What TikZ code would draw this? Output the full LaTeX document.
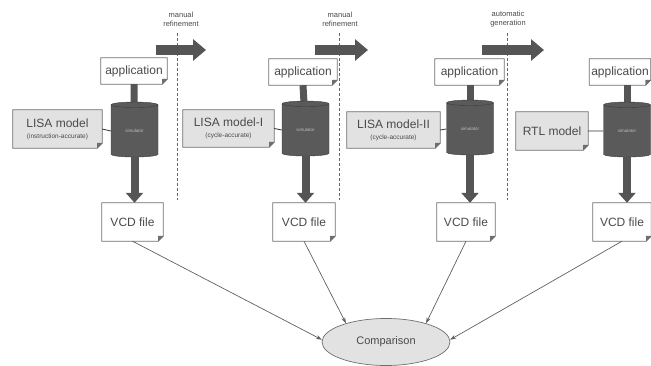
\documentclass[tikz,border=0pt]{standalone}
\usepackage{fontspec}
\setmainfont{Liberation Sans}
\usetikzlibrary{shapes.geometric,arrows.meta,backgrounds}
\definecolor{edge}{HTML}{6E6E6E}
\definecolor{txt}{HTML}{4A4A4A}
\definecolor{cylfill}{HTML}{5A5A5A}
\definecolor{cylline}{HTML}{3C3C3C}
\definecolor{lgray}{HTML}{E2E2E2}
\definecolor{darkarrow}{HTML}{555555}
\newcommand{\docframe}[2]{%
  \filldraw[fill=#2, draw=edge, line width=0.7pt]
    (#1.north west) -- (#1.north east) -- ([yshift=5pt]#1.south east)
    -- ([xshift=-5pt]#1.south east) -- (#1.south west) -- cycle;
  \filldraw[fill=edge, draw=edge, line width=0.4pt]
    ([yshift=5pt]#1.south east) -- ([xshift=-5pt]#1.south east)
    -- ([xshift=-5pt,yshift=5pt]#1.south east) -- cycle;}
\begin{document}
\begin{tikzpicture}[x=1pt,y=-1pt,
  docbox/.style={inner sep=0pt, text=txt, font=\fontsize{12}{14}\selectfont},
  modelbox/.style={docbox, align=center},
  cyl/.style={cylinder, shape border rotate=90, aspect=0.3, draw=cylline, fill=cylfill,
    minimum width=47, minimum height=55, inner sep=0pt, text=gray!50,
    font=\fontsize{4.5}{5}\selectfont},
  stub/.style={draw=darkarrow, line width=7pt},
  downarrow/.style={draw=darkarrow, line width=8pt, -{Triangle[width=17pt,length=10pt]}},
  bigarrow/.style={draw=darkarrow, line width=10pt, -{Triangle[width=21pt,length=13pt]}},
  link/.style={draw=black!80, line width=0.8pt},
  conn/.style={draw=gray!75!black, line width=0.7pt, -{Stealth[length=6pt,width=4pt]}},
  sep/.style={draw=gray!80!black, line width=0.8pt, dash pattern=on 3pt off 2pt},
  steplabel/.style={align=center, text=txt, font=\fontsize{7.5}{9}\selectfont, inner sep=0pt}
]
\useasboundingbox (0,0) rectangle (651,366);
\clip (0,0) rectangle (651,366);

% separators and step labels
\coordinate (s1t) at (177,33); \coordinate (s1b) at (177,200);
\coordinate (s2t) at (339,33); \coordinate (s2b) at (339,200);
\coordinate (s3t) at (507,33); \coordinate (s3b) at (507,200);
\draw[sep] (s1t) -- (s1b);
\draw[sep] (s2t) -- (s2b);
\draw[sep] (s3t) -- (s3b);
\node[steplabel] (l1) at (181,19) {manual\\refinement};
\node[steplabel] (l2) at (340,19) {manual\\refinement};
\node[steplabel] (l3) at (508,19) {automatic\\generation};
\coordinate (a1s) at (156,50); \coordinate (a1e) at (206,50);
\coordinate (a2s) at (315,50); \coordinate (a2e) at (368,50);
\coordinate (a3s) at (482,50); \coordinate (a3e) at (544,50);
\draw[bigarrow] (a1s) -- (a1e);
\draw[bigarrow] (a2s) -- (a2e);
\draw[bigarrow] (a3s) -- (a3e);

% column nodes
\node[docbox, minimum width=66, minimum height=26] (app1) at (134,71) {application};
\node[docbox, minimum width=68, minimum height=26] (app2) at (303,72) {application};
\node[docbox, minimum width=69, minimum height=26] (app3) at (469.5,72) {application};
\node[docbox, minimum width=61, minimum height=26] (app4) at (620,72) {application};

\node[cyl] (cyl1) at (134.5,131) {simulator};
\node[cyl] (cyl2) at (305.5,130) {simulator};
\node[cyl] (cyl3) at (470,129) {simulator};
\node[cyl] (cyl4) at (627,131) {simulator};

\node[modelbox, minimum width=89, minimum height=38] (m1) at (57.5,129)
  {LISA model\\[-3pt]{\fontsize{6.5}{7}\selectfont(instruction-accurate)}};
\node[modelbox, minimum width=91, minimum height=37] (m2) at (228.5,128.5)
  {LISA model-I\\[-3pt]{\fontsize{6.5}{7}\selectfont(cycle-accurate)}};
\node[modelbox, minimum width=93, minimum height=36] (m3) at (393.5,130)
  {LISA model-II\\[-3pt]{\fontsize{6.5}{7}\selectfont(cycle-accurate)}};
\node[modelbox, minimum width=72, minimum height=38] (m4) at (552,131) {RTL model};

\node[docbox, minimum width=61, minimum height=38] (v1) at (132.5,222) {VCD file};
\node[docbox, minimum width=62, minimum height=38] (v2) at (304,222) {VCD file};
\node[docbox, minimum width=58, minimum height=38] (v3) at (466,222) {VCD file};
\node[docbox, minimum width=58, minimum height=38] (v4) at (622,222) {VCD file};

\node[ellipse, draw=edge, line width=0.7pt, fill=lgray, minimum width=128, minimum height=47,
  text=txt, font=\fontsize{11}{13}\selectfont] (cmp) at (386,342) {Comparison};

\begin{scope}[on background layer]
  \docframe{app1}{white} \docframe{app2}{white} \docframe{app3}{white} \docframe{app4}{white}
  \docframe{m1}{lgray} \docframe{m2}{lgray} \docframe{m3}{lgray} \docframe{m4}{lgray}
  \docframe{v1}{white} \docframe{v2}{white} \docframe{v3}{white} \docframe{v4}{white}
  \draw[stub] (app1.south) -- (cyl1.center);
  \draw[stub] (app2.south) -- (cyl2.center);
  \draw[stub] (app3.south -| cyl3.center) -- (cyl3.center);
  \draw[stub] (app4.south -| cyl4.center) -- (cyl4.center);
\end{scope}

\draw[link] (m1.east) -- (cyl1.west);
\draw[link] (m2.east) -- (cyl2.west);
\draw[link] (m3.east) -- (cyl3.west);
\draw[link] (m4.east) -- (cyl4.west);

\draw[downarrow] (cyl1.bottom) -- (cyl1.bottom |- v1.north);
\draw[downarrow] (cyl2.bottom) -- (cyl2.bottom |- v2.north);
\draw[downarrow] (cyl3.bottom) -- (cyl3.bottom |- v3.north);
\draw[downarrow] (cyl4.bottom) -- (cyl4.bottom |- v4.north);

\draw[conn] (v1.south) -- (cmp.178);
\draw[conn] (v2.south) -- (cmp.155);
\draw[conn] (v3.south) -- (cmp.25);
\draw[conn] (v4.south) -- (cmp.2);
\end{tikzpicture}
\end{document}
